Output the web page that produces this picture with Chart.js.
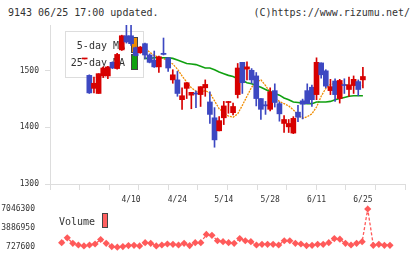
<!DOCTYPE html>
<html>
<head>
<meta charset="utf-8">
<script src="https://cdn.jsdelivr.net/npm/chart.js@4.4.0/dist/chart.umd.min.js"></script>
<style>
html, body { margin: 0; padding: 0; background: #fff; }
#wrap { position: relative; width: 420px; height: 259px; overflow: hidden; font-family: "DejaVu Sans Mono", monospace; color: #333; }
.hdr { position: absolute; top: 6px; font-size: 10px; line-height: 14px; white-space: pre; }
#c1 { position: absolute; left: 0; top: 0; }
#c2 { position: absolute; left: 0; top: 196px; }
#vleg { position: absolute; left: 59px; top: 215px; font-size: 10px; line-height: 14px; }
#vbox { position: absolute; left: 102px; top: 213px; width: 4px; height: 13px; background: #ff6060; border: 1px solid #444; }
</style>
</head>
<body>
<div id="wrap">
  <div class="hdr" style="left:8px">9143 06/25 17:00 updated.</div>
  <div class="hdr" style="right:10px">(C)https://www.rizumu.net/</div>
  <canvas id="c1" width="420" height="206"></canvas>
  <canvas id="c2" width="420" height="63"></canvas>
  <div id="vleg">Volume</div>
  <div id="vbox"></div>
</div>
<script>
// 日付（ラベルは10本ごと）
const dates = ["3/27","3/30","3/31","4/1","4/2","4/3","4/6","4/7","4/8","4/9",
  "4/10","4/13","4/14","4/15","4/16","4/17","4/20","4/21","4/22","4/23",
  "4/24","4/27","4/28","4/30","5/1","5/7","5/8","5/11","5/12","5/13",
  "5/14","5/15","5/18","5/19","5/20","5/21","5/22","5/25","5/26","5/27",
  "5/28","5/29","6/1","6/2","6/3","6/4","6/5","6/8","6/9","6/10",
  "6/11","6/12","6/15","6/16","6/17","6/18","6/19","6/22","6/23","6/24","6/25"];
const labelIdx = [10, 20, 30, 40, 50, 60];

// 四本値
const opens  = [1521,1492,1469,1460,1491,1491,1515,1504,1537,1562,
  1562,1541,1532,1548,1528,1519,1507,1531,1523,1484,
  1484,1449,1469,1457,1460,1458,1470,1445,1417,1394,
  1417,1444,1426,1458,1515,1503,1501,1491,1451,1440,
  1432,1465,1442,1407,1401,1390,1427,1447,1465,1471,
  1458,1514,1500,1465,1482,1451,1475,1467,1474,1481,1484];
const highs  = [1521,1493,1489,1495,1507,1508,1516,1531,1563,1581,
  1581,1542,1543,1549,1530,1535,1526,1558,1524,1502,
  1499,1470,1479,1462,1464,1472,1484,1463,1435,1419,
  1446,1446,1443,1513,1515,1516,1504,1497,1451,1446,
  1470,1477,1445,1421,1414,1419,1439,1450,1477,1475,
  1523,1514,1502,1485,1486,1485,1486,1489,1491,1484,1506];
const lows   = [1521,1460,1461,1460,1488,1486,1504,1503,1536,1549,
  1545,1526,1531,1521,1514,1506,1497,1528,1499,1478,
  1455,1432,1451,1433,1435,1437,1455,1407,1365,1394,
  1405,1425,1422,1452,1460,1484,1478,1438,1414,1423,
  1429,1436,1411,1391,1391,1389,1410,1415,1442,1437,
  1449,1487,1470,1458,1446,1443,1460,1455,1460,1456,1470];
const closes = [1521,1461,1478,1495,1505,1507,1505,1529,1562,1551,
  1548,1527,1542,1528,1515,1507,1525,1529,1505,1493,
  1460,1456,1479,1462,1459,1472,1476,1423,1378,1412,
  1438,1445,1437,1505,1479,1507,1484,1451,1432,1438,
  1463,1444,1424,1414,1407,1416,1418,1441,1442,1449,
  1515,1493,1473,1472,1458,1483,1474,1475,1485,1467,1490];

// 移動平均（5日・25日）
const ma5  = [null,1523,1515,1508,1503,1502,1503,1508,1520,1531,
  1541,1545,1544,1540,1533,1527,1524,1522,1517,1512,
  1503,1491,1480,1470,1464,1462,1465,1461,1447,1433,
  1426,1420,1418,1424,1439,1455,1471,1480,1484,1474,
  1462,1452,1446,1442,1438,1431,1422,1416,1419,1424,
  1436,1455,1469,1476,1478,1477,1476,1475,1474,1474,1474];
const ma25 = [null,1512,1513,1514,1514,1515,1515,1516,1517,1518,
  1519,1520,1521,1522,1522,1523,1523,1523,1523,1522,
  1519,1516,1513,1512,1511,1508,1505,1505,1502,1498,
  1495,1492,1490,1486,1483,1479,1477,1474,1471,1467,
  1463,1460,1457,1452,1449,1445,1444,1443,1442,1442,
  1445,1445,1445,1446,1449,1451,1453,1455,1456,1456,1456];

// 出来高
const volumes = [null,1475700,2271500,1364200,1093700,934500,1093700,1252800,2000900,1364200,
  839000,727600,839000,998200,1045900,934500,1475700,1364200,934500,1093700,
  1252800,1205100,1093700,1364200,998200,1475700,1475700,2844400,2685300,1794000,
  1634800,1475700,1364200,2160000,1794000,1634800,1093700,1205100,1205100,1205100,
  1093700,1794000,1794000,1364200,1252800,998200,1045900,1205100,1205100,1475700,
  2160000,2048600,1364200,1093700,1364200,1634800,7046300,1045900,1205100,1045900,1045900];

const RED = "#d70000", BLUE = "#3d48c2", ORANGE = "#f08c00", GREEN = "#10a010", VOL = "#ff5a5a";
const MONO = "DejaVu Sans Mono";
Chart.defaults.font.family = MONO;
Chart.defaults.color = "#333";

const xIdx = dates.map((d, i) => i);
const candleColors = xIdx.map(i => closes[i] >= opens[i] ? RED : BLUE);

// 凡例：移動平均線の後、ローソク足の前に描く
const maLegend = {
  id: "maLegend",
  afterDatasetDraw(chart, args) {
    if (args.index !== 1) return;
    const ctx = chart.ctx;
    ctx.save();
    ctx.fillStyle = "#fff";
    ctx.strokeStyle = "#ddd";
    ctx.lineWidth = 1;
    ctx.fillRect(65.5, 31.5, 78, 46);
    ctx.strokeRect(65.5, 31.5, 78, 46);
    ctx.font = "10px '" + MONO + "'";
    ctx.fillStyle = "#333";
    ctx.textAlign = "right";
    ctx.textBaseline = "middle";
    ctx.fillText("5-day MA", 125, 46);
    ctx.fillText("25-day MA", 125, 63);
    ctx.strokeStyle = "#444";
    ctx.fillStyle = ORANGE;
    ctx.fillRect(131.5, 37.5, 6, 15);
    ctx.strokeRect(131.5, 37.5, 6, 15);
    ctx.fillStyle = GREEN;
    ctx.fillRect(131.5, 54.5, 6, 15);
    ctx.strokeRect(131.5, 54.5, 6, 15);
    ctx.restore();
  }
};

new Chart(document.getElementById("c1"), {
  type: "bar",
  data: {
    datasets: [
      {
        type: "line", label: "5-day MA", order: 5,
        data: xIdx.map(i => ({ x: i, y: ma5[i] })),
        borderColor: ORANGE, borderWidth: 1.3, borderDash: [2, 1],
        pointRadius: 0, tension: 0
      },
      {
        type: "line", label: "25-day MA", order: 4,
        data: xIdx.map(i => ({ x: i, y: ma25[i] })),
        borderColor: GREEN, borderWidth: 1.6,
        pointRadius: 0, tension: 0
      },
      {
        label: "wick", order: 2, grouped: false,
        data: xIdx.map(i => ({ x: i, y: [lows[i], highs[i]] })),
        backgroundColor: candleColors, barThickness: 1, borderWidth: 0
      },
      {
        label: "body", order: 1, grouped: false,
        data: xIdx.map(i => ({ x: i, y: [opens[i], closes[i]] })),
        backgroundColor: candleColors, barThickness: 5, borderWidth: 0, minBarLength: 1
      }
    ]
  },
  options: {
    responsive: false,
    animation: false,
    devicePixelRatio: 1,
    layout: { padding: { top: 25, right: 15, left: 0, bottom: 0 } },
    plugins: { legend: { display: false }, tooltip: { enabled: false } },
    scales: {
      x: {
        type: "linear", position: "bottom", weight: 1,
        min: -1.1, max: 62.7,
        afterBuildTicks: s => { s.ticks = labelIdx.map(v => ({ value: v })); },
        afterFit: s => { s.height = 16; },
        ticks: { callback: v => dates[v], font: { size: 8 }, color: "#333", padding: -3, maxRotation: 0, autoSkip: false },
        grid: { display: false },
        border: { display: false }
      },
      x2: {
        type: "linear", position: "bottom", weight: 0,
        min: 0, max: 11,
        afterFit: s => { s.height = 6; },
        ticks: { display: false, stepSize: 1 },
        grid: { drawOnChartArea: false, drawTicks: true, tickLength: 6, color: "#ddd" },
        border: { display: true, color: "#ddd" }
      },
      y: {
        min: 1300, max: 1581,
        afterFit: s => { s.width = 50; },
        afterBuildTicks: s => { s.ticks = s.ticks.filter(t => t.value % 100 === 0); },
        ticks: { stepSize: 100, callback: v => String(v), font: { size: 8 }, color: "#333", padding: 6 },
        grid: { drawOnChartArea: false, tickLength: 5, color: "#ddd" },
        border: { color: "#ddd" }
      }
    }
  },
  plugins: [maLegend]
});

const vMin = Math.min(...volumes.filter(v => v !== null));
const vMax = Math.max(...volumes.filter(v => v !== null));

new Chart(document.getElementById("c2"), {
  type: "line",
  data: {
    datasets: [{
      label: "Volume",
      data: xIdx.map(i => ({ x: i, y: volumes[i] })),
      borderColor: VOL, borderWidth: 1.3, borderDash: [3, 2],
      pointStyle: "rectRot", pointRadius: 3.6, pointBackgroundColor: VOL, pointBorderWidth: 0,
      tension: 0, clip: false
    }]
  },
  options: {
    responsive: false,
    animation: false,
    devicePixelRatio: 1,
    layout: { padding: { top: 13, right: 15, left: 0, bottom: 10 } },
    plugins: { legend: { display: false }, tooltip: { enabled: false } },
    scales: {
      x: { type: "linear", min: -1.1, max: 62.7, display: false },
      y: {
        min: vMin, max: vMax,
        afterFit: s => { s.width = 50; },
        afterBuildTicks: s => { s.ticks = [vMin, (vMin + vMax) / 2, vMax].map(v => ({ value: v })); },
        ticks: { callback: v => String(Math.round(v)), font: { size: 8 }, color: "#333", padding: 7 },
        grid: { display: false },
        border: { display: false }
      }
    }
  }
});
</script>
</body>
</html>
